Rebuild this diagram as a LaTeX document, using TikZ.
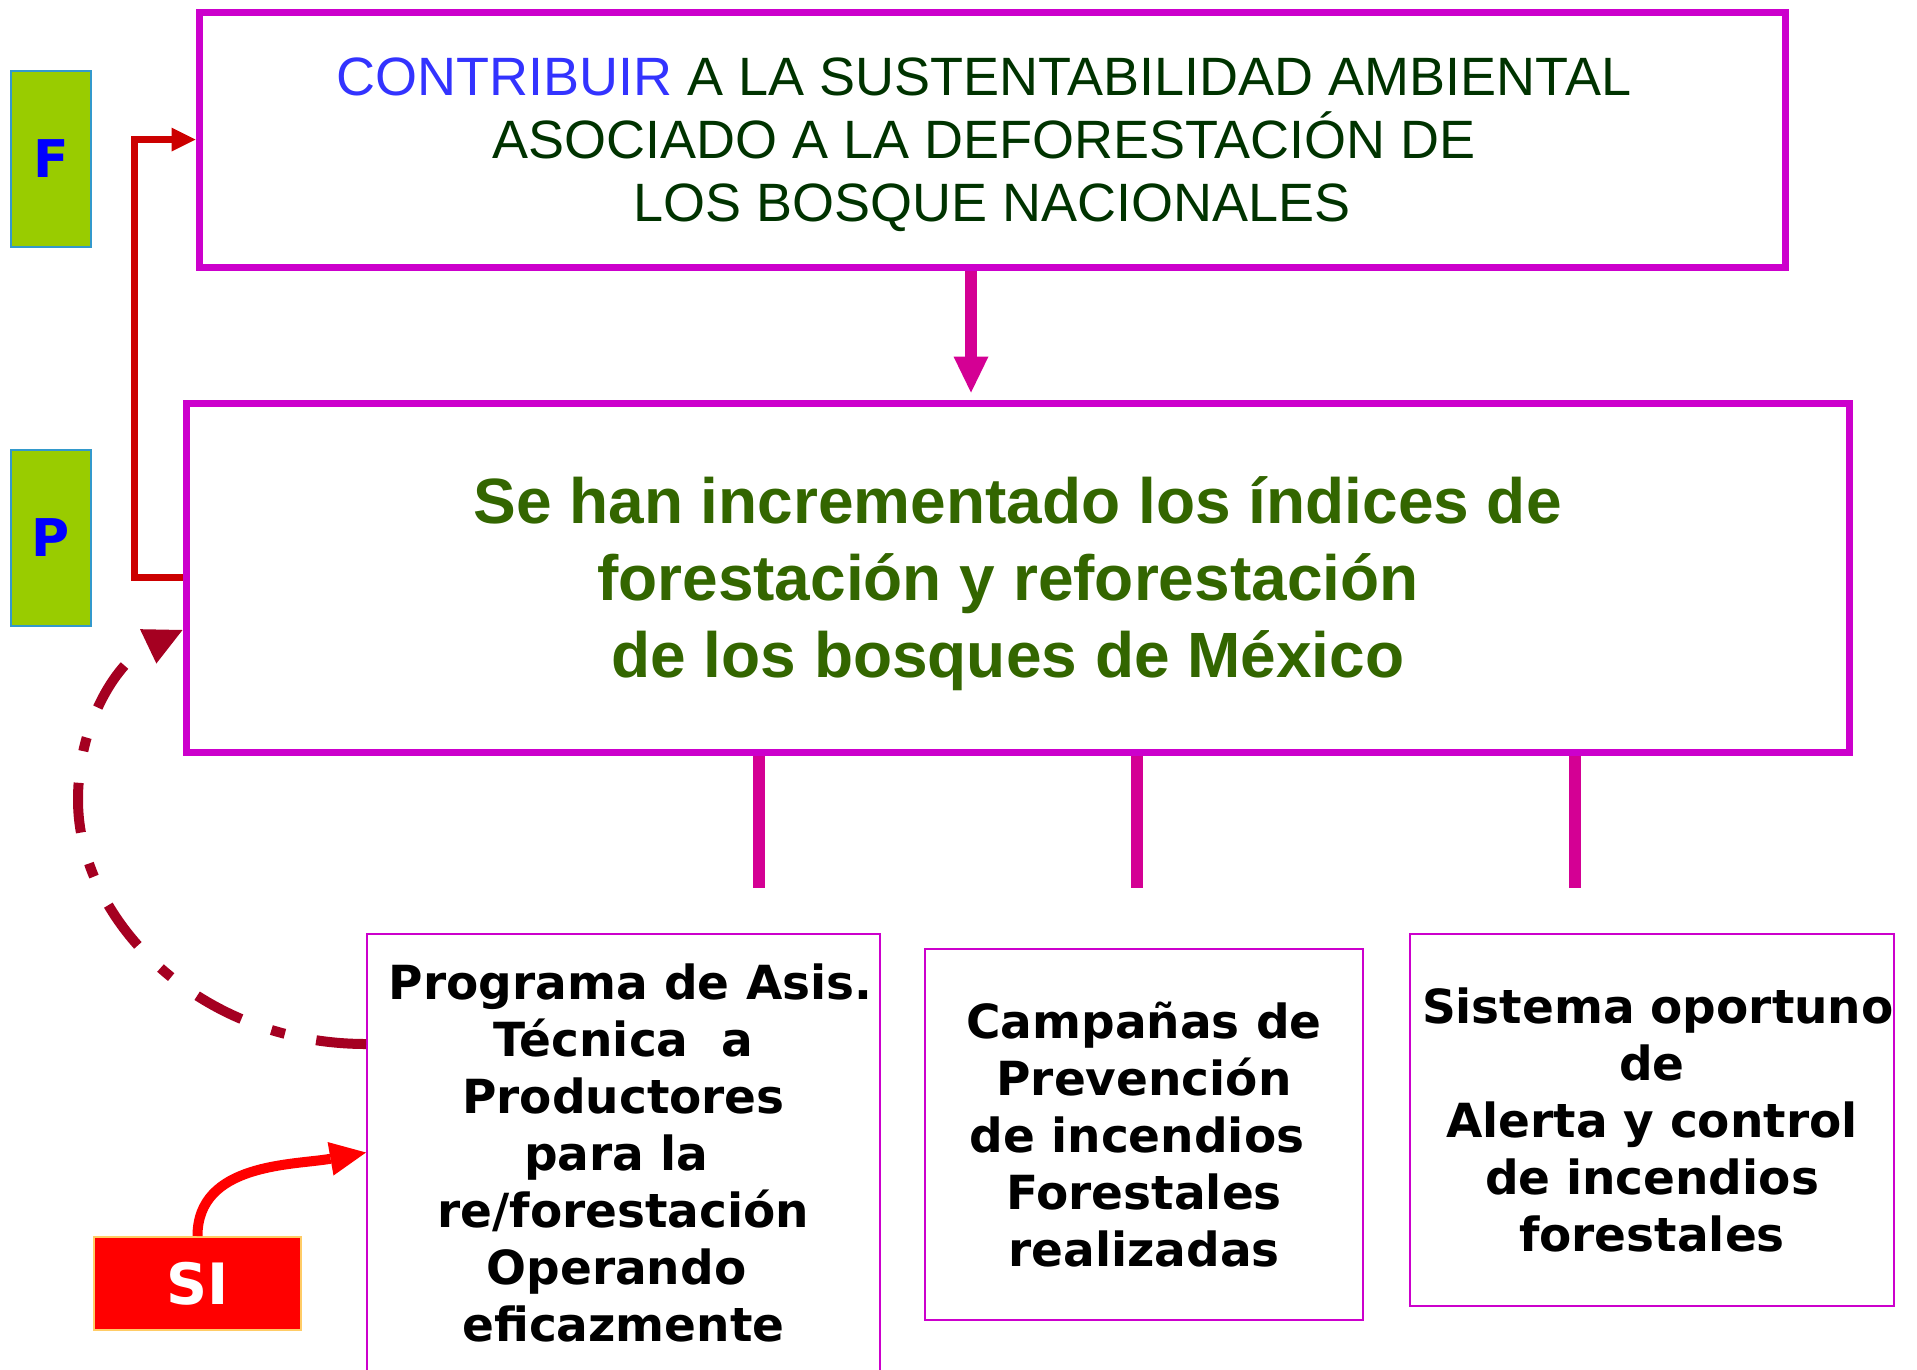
\documentclass[tikz,border=0pt]{standalone}
\usepackage{fontspec}
\setmainfont{Liberation Sans}
\newfontfamily\verdana{DejaVu Sans}
\usetikzlibrary{arrows.meta}
\definecolor{boxmagenta}{RGB}{204,0,204}
\definecolor{stempink}{RGB}{212,0,148}
\definecolor{tagfill}{RGB}{153,204,0}
\definecolor{tagedge}{RGB}{51,153,204}
\definecolor{goalblue}{RGB}{51,51,255}
\definecolor{goalgreen}{RGB}{0,51,0}
\definecolor{purposegreen}{RGB}{51,102,0}
\definecolor{linkred}{RGB}{204,0,0}
\definecolor{loopred}{RGB}{165,0,33}
\definecolor{siedge}{RGB}{255,204,102}
\newcommand{\padsp}{\kern0.3em}
\tikzstyle{tagbox} = [
  rectangle,
  minimum width=80pt,
  minimum height=176pt,
  draw=tagedge,
  line width=1.5pt,
  fill=tagfill,
  text=blue,
  font=\verdana\bfseries\fontsize{52}{60}\selectfont
]
\tikzstyle{goalbox} = [
  rectangle,
  minimum width=1586pt,
  minimum height=255pt,
  draw=boxmagenta,
  line width=7pt,
  align=center,
  text depth=-7pt,
  text=goalgreen,
  font=\fontsize{54}{63}\selectfont
]
\tikzstyle{purposebox} = [
  rectangle,
  minimum width=1663pt,
  minimum height=349pt,
  draw=boxmagenta,
  line width=7pt,
  align=center,
  text depth=-4pt,
  text=purposegreen,
  font=\bfseries\fontsize{64}{77}\selectfont
]
\tikzstyle{compbox} = [
  rectangle,
  draw=boxmagenta,
  line width=2pt,
  inner sep=0pt,
  align=center,
  text=black,
  font=\verdana\bfseries\fontsize{47}{57}\selectfont
]
\tikzstyle{sibox} = [
  rectangle,
  minimum width=207pt,
  minimum height=93pt,
  draw=siedge,
  line width=2pt,
  fill=red,
  text=white,
  font=\verdana\bfseries\fontsize{57}{64}\selectfont
]
\tikzstyle{downarrow} = [stempink, line width=12pt, -{Triangle[length=36pt, width=35pt, line width=0pt]}]
\tikzstyle{stemline} = [stempink, line width=12pt]
\tikzstyle{linkarrow} = [linkred, line width=7.5pt, -{Triangle[length=24pt, width=24pt, line width=0pt]}]
\tikzstyle{siarrow} = [red, line width=10pt, -{Triangle[length=36pt, width=34pt, line width=0pt]}]
\tikzstyle{feedback} = [loopred, line width=10pt, dash pattern=on 50pt off 32pt on 14pt off 32pt, -{Triangle[length=38pt, width=38pt, line width=0pt]}]

\begin{document}
\begin{tikzpicture}[x=1pt, y=-1pt]
    \useasboundingbox (0,0) rectangle (1917,1369);

    \node (tag-f) [tagbox] at (51,159) {F};
    \node (tag-p) [tagbox] at (51,538) {P};
    \node (goal-box) [goalbox] at (992,139.5) {{\color{goalblue}CONTRIBUIR} A LA SUSTENTABILIDAD AMBIENTAL\padsp\\ASOCIADO A LA DEFORESTACIÓN DE\padsp\\LOS BOSQUE NACIONALES};
    \node (purpose-box) [purposebox] at (1017.5,577.5) {Se han incrementado los índices de\\forestación y reforestación\padsp\\de los bosques de México\padsp};
    \node (comp-asis) [compbox, minimum width=513pt, minimum height=437pt] at (623.5,1152.5) {\padsp Programa de Asis.\\Técnica \ a\\Productores\\para la\padsp\\re/forestación\\Operando\padsp\\eficazmente};
    \node (comp-campanas) [compbox, minimum width=438pt, minimum height=371pt] at (1144,1134.5) {Campañas de\\Prevención\\de incendios\padsp\\Forestales\\realizadas};
    \node (comp-alerta) [compbox, text width=484pt, minimum height=372pt] at (1652,1120) {\mbox{\kern0.25em Sistema oportuno}\\de\\Alerta y control\\de incendios\\forestales};
    \node (si-box) [sibox] at (197.5,1283.5) {SI};

    \coordinate (stem-a) at (759,888);
    \coordinate (stem-b) at (1137,888);
    \coordinate (stem-c) at (1575,888);
    \coordinate (loop-bend) at (78,800);

    \draw [downarrow, shorten >=7pt] ([xshift=-21pt]goal-box.south) -- ([xshift=-46.5pt]purpose-box.north);
    \draw [linkarrow] (purpose-box.west) -- ++(-48,0) |- (goal-box.west);
    \draw [stemline] (purpose-box.south -| stem-a) -- (stem-a);
    \draw [stemline] (purpose-box.south -| stem-b) -- (stem-b);
    \draw [stemline] (purpose-box.south -| stem-c) -- (stem-c);
    \draw [siarrow] (si-box.north) to[out=90, in=190] (comp-asis.west);
    \draw [feedback] ([yshift=108.5pt]comp-asis.west) .. controls +(-167,0) and +(0,120) .. (loop-bend) .. controls +(0,-80) and +(-63,30) .. ([yshift=-52.5pt]purpose-box.west);
  \end{tikzpicture}
\end{document}
